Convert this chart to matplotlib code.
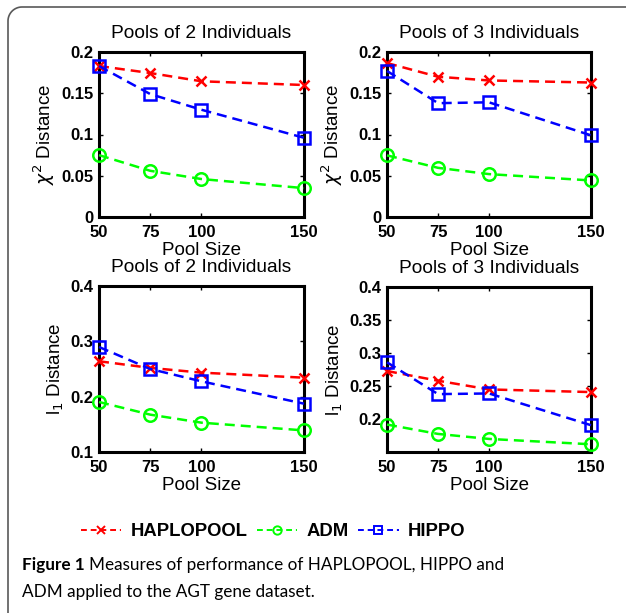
import numpy as np
import matplotlib
matplotlib.use("Agg")
import matplotlib.pyplot as plt
from matplotlib.lines import Line2D

# ---------------- data ----------------
pool_sizes = [50, 75, 100, 150]
series_names = ["HAPLOPOOL", "ADM", "HIPPO"]

chi2_pool2_haplopool = [0.183, 0.1745, 0.1645, 0.160]
chi2_pool2_adm = [0.075, 0.056, 0.046, 0.035]
chi2_pool2_hippo = [0.183, 0.149, 0.130, 0.096]

chi2_pool3_haplopool = [0.1866, 0.170, 0.1655, 0.163]
chi2_pool3_adm = [0.0747, 0.0596, 0.052, 0.0443]
chi2_pool3_hippo = [0.177, 0.138, 0.139, 0.099]

l1_pool2_haplopool = [0.264, 0.252, 0.2434, 0.2343]
l1_pool2_adm = [0.1904, 0.1675, 0.153, 0.139]
l1_pool2_hippo = [0.2898, 0.250, 0.2277, 0.1873]

l1_pool3_haplopool = [0.2727, 0.258, 0.2448, 0.2408]
l1_pool3_adm = [0.1916, 0.1774, 0.1698, 0.1617]
l1_pool3_hippo = [0.2859, 0.2377, 0.2387, 0.1906]

titles = ["Pools of 2 Individuals", "Pools of 3 Individuals",
          "Pools of 2 Individuals", "Pools of 3 Individuals"]
xlabel = "Pool Size"
ylabels = [r"$\chi^2$ Distance", r"$\chi^2$ Distance",
           r"l$_1$ Distance", r"l$_1$ Distance"]
xticks = [50, 75, 100, 150]
yticks_chi = [0, 0.05, 0.1, 0.15, 0.2]
yticklabels_chi = ["0", "0.05", "0.1", "0.15", "0.2"]
yticks_l1a = [0.1, 0.2, 0.3, 0.4]
yticklabels_l1a = ["0.1", "0.2", "0.3", "0.4"]
yticks_l1b = [0.2, 0.25, 0.3, 0.35, 0.4]
yticklabels_l1b = ["0.2", "0.25", "0.3", "0.35", "0.4"]
caption_bold = "Figure 1"
caption_line1 = "Measures of performance of HAPLOPOOL, HIPPO and"
caption_line2 = "ADM applied to the AGT gene dataset."

# ---------------- style ----------------
W, H = 626, 613
plt.rcParams["font.family"] = ["Liberation Sans", "DejaVu Sans"]
colors = {"HAPLOPOOL": (1, 0, 0), "ADM": (0, 1, 0), "HIPPO": (0, 0, 1)}
markers = {"HAPLOPOOL": "x", "ADM": "o", "HIPPO": "s"}
msizes = {"HAPLOPOOL": 7, "ADM": 9, "HIPPO": 8}

fig = plt.figure(figsize=(W / 100, H / 100), dpi=100)

def px_rect(l, t, r, b):
    return [l / W, 1 - b / H, (r - l) / W, (b - t) / H]

rects = [px_rect(99, 52, 304, 217), px_rect(387, 52, 591, 217),
         px_rect(99, 286, 304, 452), px_rect(387, 287, 591, 452)]
panel_data = [
    (chi2_pool2_haplopool, chi2_pool2_adm, chi2_pool2_hippo),
    (chi2_pool3_haplopool, chi2_pool3_adm, chi2_pool3_hippo),
    (l1_pool2_haplopool, l1_pool2_adm, l1_pool2_hippo),
    (l1_pool3_haplopool, l1_pool3_adm, l1_pool3_hippo),
]
ylims = [(0, 0.2), (0, 0.2), (0.1, 0.4), (0.15, 0.4)]
yt = [(yticks_chi, yticklabels_chi), (yticks_chi, yticklabels_chi),
      (yticks_l1a, yticklabels_l1a), (yticks_l1b, yticklabels_l1b)]

for i in range(4):
    ax = fig.add_axes(rects[i])
    for name, vals in zip(series_names, panel_data[i]):
        mfc = colors[name] if name == "HAPLOPOOL" else "none"
        ax.plot(pool_sizes, vals, linestyle="--", dashes=(4, 2.4), color=colors[name],
                linewidth=1.8, marker=markers[name], markersize=msizes[name],
                markerfacecolor=mfc, markeredgewidth=1.8, clip_on=False,
                zorder=3, label=name)
    ax.set_xlim(50, 150)
    ax.set_ylim(*ylims[i])
    ax.set_xticks(xticks)
    ax.set_xticklabels([str(v) for v in xticks], fontsize=12, fontweight="bold")
    ax.set_yticks(yt[i][0])
    ax.set_yticklabels(yt[i][1], fontsize=12, fontweight="bold")
    ax.tick_params(direction="in", length=3, width=1, top=True, right=True)
    ax.tick_params(axis="x", pad=6)
    ax.tick_params(axis="y", pad=4)
    for sp in ax.spines.values():
        sp.set_linewidth(2.2)
    ax.set_title(titles[i], fontsize=13.8, pad=10)
    ax.set_xlabel(xlabel, fontsize=13.5, labelpad=1)
    ax.set_ylabel(ylabels[i], fontsize=13.5, labelpad=3)

# legend
handles = [Line2D([], [], linestyle="--", dashes=(3, 2), color=colors[n], linewidth=1.4,
                  marker=markers[n], markersize=6,
                  markerfacecolor=(colors[n] if n == "HAPLOPOOL" else "none"),
                  markeredgewidth=1.4) for n in series_names]
fig.legend(handles, series_names, loc="center", bbox_to_anchor=(273 / W, 1 - 532 / H),
           ncol=3, frameon=False, handlelength=2.2, handletextpad=0.5,
           columnspacing=0.5, prop={"family": "Liberation Sans", "weight": "bold", "size": 13.3})

# caption
cap_font = ["Lato", "DejaVu Sans"]
cap_size = 12.3
t1 = fig.text(22 / W, 1 - 570 / H, caption_bold, fontsize=cap_size, fontweight="bold",
              family=cap_font, va="baseline", ha="left")
fig.canvas.draw()
bb = t1.get_window_extent(fig.canvas.get_renderer())
fig.text(bb.x1 / W + 4 / W, 1 - 570 / H, caption_line1, fontsize=cap_size,
         family=cap_font, va="baseline", ha="left")
fig.text(22 / W, 1 - 597 / H, caption_line2, fontsize=cap_size,
         family=cap_font, va="baseline", ha="left")

# frame (rounded top-left corner)
r = 14
x0, y0 = 8, 7
theta = np.linspace(np.pi, np.pi / 2, 20)
arc_x = x0 + r + r * np.cos(theta)
arc_y = y0 + r - r * np.sin(theta)
fx = np.concatenate([[x0], arc_x, [W + 5]])
fy = np.concatenate([[H + 5], arc_y, [y0]])
fig.add_artist(Line2D(fx / W, 1 - fy / H, transform=fig.transFigure,
                      color=(0.35, 0.35, 0.35), linewidth=1.2))

fig.savefig("out.png", dpi=100)
